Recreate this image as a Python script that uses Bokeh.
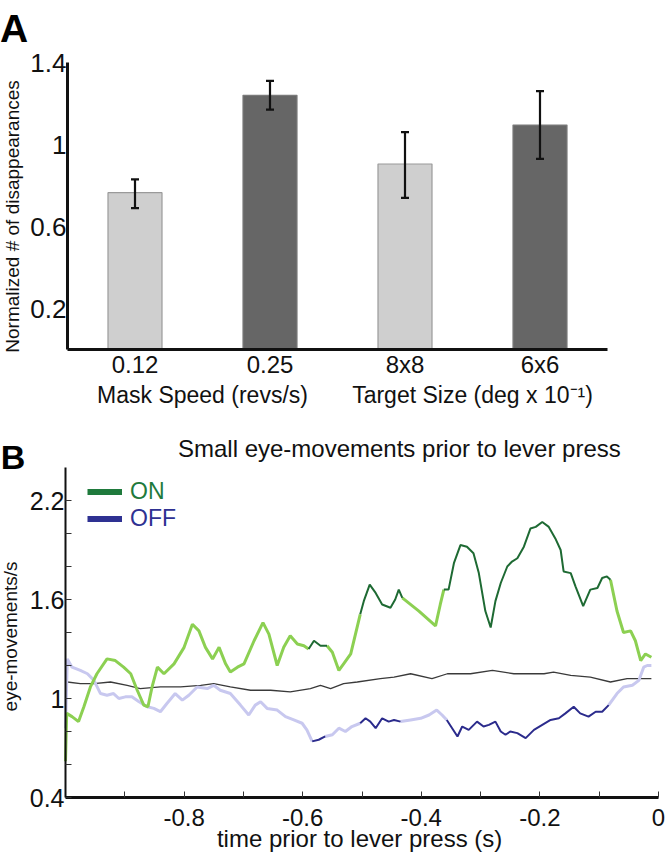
import numpy as np
from bokeh.plotting import figure
from bokeh.layouts import column
from bokeh.models import (Range1d, FixedTicker, Label, Whisker, ColumnDataSource,
                          Legend, LegendItem, TeeHead)
from bokeh.embed import file_html
from bokeh.resources import INLINE

FONT = "Liberation Sans"

# ---------------- Panel A data ----------------
bar_labels = ["0.12", "0.25", "8x8", "6x6"]
bar_values = [0.765, 1.24, 0.905, 1.095]
bar_err_upper = [0.83, 1.31, 1.06, 1.26]
bar_err_lower = [0.69, 1.17, 0.74, 0.93]
bar_fill = ["#cfcfcf", "#666666", "#cfcfcf", "#666666"]
bar_line = ["#9a9a9a", "#7a7a7a", "#9a9a9a", "#7a7a7a"]
group_labels = ["Mask Speed (revs/s)", "Target Size (deg x 10\u207b\u00b9)"]
group_centers = [1.0, 3.0]
a_yticks = [0.2, 0.6, 1.0, 1.4]
a_yticklabels = ["0.2", "0.6", "1", "1.4"]

# ---------------- Panel B data ----------------
on_t = [-1.0, -0.998, -0.989, -0.978, -0.969, -0.958, -0.947, -0.930, -0.916, -0.902,
        -0.890, -0.879, -0.868, -0.861, -0.854, -0.845, -0.834, -0.817, -0.800, -0.786,
        -0.775, -0.764, -0.752, -0.741, -0.730, -0.722, -0.710, -0.699, -0.682, -0.667,
        -0.657, -0.643, -0.632, -0.621, -0.609, -0.598, -0.590, -0.581, -0.570, -0.559,
        -0.550, -0.539, -0.531, -0.519, -0.511, -0.503, -0.497, -0.487, -0.477, -0.466,
        -0.452, -0.444, -0.438, -0.432, -0.404, -0.376, -0.368, -0.362, -0.354, -0.345,
        -0.334, -0.323, -0.312, -0.303, -0.292, -0.283, -0.275, -0.266, -0.255, -0.247,
        -0.238, -0.227, -0.216, -0.207, -0.196, -0.185, -0.174, -0.165, -0.160, -0.148,
        -0.140, -0.127, -0.115, -0.103, -0.095, -0.087, -0.081, -0.070, -0.059, -0.047,
        -0.039, -0.030, -0.022, -0.012]
on_v = [0.62, 0.91, 0.89, 0.86, 0.95, 1.07, 1.15, 1.24, 1.23, 1.19,
        1.15, 1.05, 0.96, 0.95, 1.07, 1.19, 1.15, 1.21, 1.31, 1.45,
        1.41, 1.31, 1.24, 1.31, 1.21, 1.16, 1.19, 1.21, 1.35, 1.46,
        1.39, 1.20, 1.31, 1.38, 1.33, 1.32, 1.30, 1.35, 1.32, 1.32,
        1.28, 1.17, 1.21, 1.27, 1.39, 1.51, 1.59, 1.69, 1.64, 1.57,
        1.55, 1.60, 1.66, 1.61, 1.53, 1.44, 1.57, 1.66, 1.66, 1.82,
        1.93, 1.92, 1.88, 1.76, 1.53, 1.43, 1.59, 1.70, 1.80, 1.83,
        1.85, 1.92, 2.03, 2.04, 2.07, 2.04, 1.97, 1.90, 1.77, 1.76,
        1.68, 1.56, 1.66, 1.67, 1.73, 1.74, 1.72, 1.53, 1.40, 1.41,
        1.35, 1.23, 1.27, 1.25]
on_sig_windows = [(-0.591, -0.558), (-0.504, -0.431), (-0.363, -0.080)]

off_t = [-1.0, -0.997, -0.989, -0.975, -0.963, -0.952, -0.941, -0.930, -0.919, -0.910,
         -0.899, -0.888, -0.876, -0.862, -0.851, -0.840, -0.829, -0.815, -0.803, -0.792,
         -0.778, -0.761, -0.750, -0.739, -0.722, -0.705, -0.691, -0.680, -0.671, -0.660,
         -0.643, -0.629, -0.615, -0.601, -0.593, -0.584, -0.573, -0.562, -0.550, -0.539,
         -0.528, -0.517, -0.503, -0.494, -0.486, -0.477, -0.466, -0.455, -0.446, -0.435,
         -0.418, -0.401, -0.387, -0.374, -0.365, -0.357, -0.348, -0.339, -0.331, -0.320,
         -0.306, -0.295, -0.286, -0.275, -0.266, -0.258, -0.250, -0.238, -0.224, -0.210,
         -0.196, -0.182, -0.168, -0.157, -0.143, -0.132, -0.118, -0.106, -0.095, -0.084,
         -0.070, -0.059, -0.044, -0.033, -0.025, -0.019, -0.012]
off_v = [0.82, 1.24, 1.19, 1.17, 1.15, 1.11, 1.03, 1.02, 1.03, 1.00,
         1.01, 1.01, 0.98, 0.95, 0.94, 0.92, 0.97, 1.03, 0.99, 1.02,
         1.07, 1.06, 1.08, 1.05, 1.03, 0.96, 0.90, 0.96, 0.98, 0.94,
         0.93, 0.89, 0.87, 0.85, 0.81, 0.74, 0.75, 0.77, 0.78, 0.82,
         0.80, 0.83, 0.85, 0.88, 0.86, 0.82, 0.88, 0.86, 0.87, 0.86,
         0.87, 0.88, 0.90, 0.93, 0.90, 0.87, 0.82, 0.77, 0.83, 0.81,
         0.86, 0.83, 0.84, 0.86, 0.80, 0.78, 0.80, 0.79, 0.76, 0.81,
         0.84, 0.87, 0.88, 0.91, 0.95, 0.91, 0.89, 0.92, 0.92, 0.96,
         1.03, 1.07, 1.08, 1.11, 1.19, 1.20, 1.20]
off_sig_windows = [(-0.585, -0.561), (-0.504, -0.434), (-0.358, -0.083)]

base_t = [-0.997, -0.975, -0.952, -0.924, -0.896, -0.874, -0.840, -0.806, -0.772, -0.750,
          -0.722, -0.688, -0.654, -0.621, -0.587, -0.570, -0.553, -0.531, -0.508, -0.469,
          -0.446, -0.418, -0.382, -0.356, -0.317, -0.280, -0.244, -0.216, -0.193, -0.177,
          -0.148, -0.115, -0.081, -0.053, -0.030, -0.012]
base_v = [1.10, 1.09, 1.09, 1.10, 1.08, 1.06, 1.07, 1.07, 1.08, 1.09,
          1.07, 1.05, 1.05, 1.04, 1.06, 1.08, 1.06, 1.09, 1.10, 1.12,
          1.13, 1.15, 1.12, 1.15, 1.15, 1.17, 1.15, 1.15, 1.15, 1.16,
          1.14, 1.13, 1.10, 1.12, 1.12, 1.12]

b_yticks = [0.4, 0.6, 0.8, 1.0, 1.2, 1.4, 1.6, 1.8, 2.0, 2.2]
b_yticklabels = ["0.4", "", "", "1", "", "", "1.6", "", "", "2.2"]
b_xticks = [-1.0, -0.9, -0.8, -0.7, -0.6, -0.5, -0.4, -0.3, -0.2, -0.1, 0.0]
b_xticklabels = ["", "", "-0.8", "", "-0.6", "", "-0.4", "", "-0.2", "", "0"]
legend_labels = ["ON", "OFF"]

ON_LIGHT, ON_DARK, ON_LEG = "#8cd052", "#1e6a33", "#1f7a3c"
OFF_LIGHT, OFF_DARK, OFF_LEG = "#c8c8ef", "#2b2b8c", "#2e3192"
TXT = "#111111"

# ---------------- layout (pixels) ----------------
W = 666
HA, HB = 415, 437
A_X0, A_PX = 67, 135.0       # x=0 at 67 px, 135 px per unit
A_Y0, A_PY = 349, 205.0      # y=0 at 349 px from top, 205 px per unit
B_X0, B_PX = 65, 593.0       # x=-1 at 65 px
B_Y0, B_PY = 382, 165.0      # y=0.4 at 382 px from top of panel B


def split_segments(t, v, windows):
    flags = [any(a <= x <= b for a, b in windows) for x in t]
    light, dark = [], []
    cur_x, cur_y, cur_state = [t[0]], [v[0]], None
    for i in range(len(t) - 1):
        state = flags[i] and flags[i + 1]
        if cur_state is None:
            cur_state = state
        if state != cur_state:
            (dark if cur_state else light).append((cur_x, cur_y))
            cur_x, cur_y, cur_state = [t[i]], [v[i]], state
        cur_x.append(t[i + 1])
        cur_y.append(v[i + 1])
    (dark if cur_state else light).append((cur_x, cur_y))
    return light, dark


def lab(p, x, y, text, size, angle=0.0, bold=False, color=TXT, baseline="middle"):
    p.add_layout(Label(x=x, y=y, text=text, angle=angle, text_font=FONT,
                       text_font_size=size, text_font_style="bold" if bold else "normal",
                       text_align="center", text_baseline=baseline, text_color=color))


def style_axis(ax, lw, fs, standoff, tick_in=0, tick_color=None):
    ax.axis_line_width = lw
    ax.axis_line_color = TXT
    ax.major_tick_in = tick_in
    ax.major_tick_out = 0
    ax.minor_tick_in = 0
    ax.minor_tick_out = 0
    ax.major_tick_line_color = tick_color
    ax.minor_tick_line_color = None
    ax.major_label_text_font = FONT
    ax.major_label_text_font_size = fs
    ax.major_label_text_color = TXT
    ax.major_label_standoff = standoff


# ---------------- Figure A ----------------
pA = figure(width=W, height=HA,
            x_range=Range1d(-A_X0 / A_PX, (W - A_X0) / A_PX),
            y_range=Range1d(-(HA - A_Y0) / A_PY, A_Y0 / A_PY),
            output_backend="svg", toolbar_location=None,
            min_border=0, min_border_left=0, min_border_right=0,
            min_border_top=0, min_border_bottom=0)
pA.outline_line_color = None
pA.grid.visible = False

bar_x = [i + 0.5 for i in range(len(bar_labels))]
srcA = ColumnDataSource(dict(x=bar_x, top=bar_values, upper=bar_err_upper,
                             lower=bar_err_lower, fill=bar_fill, line=bar_line))
pA.vbar(x="x", top="top", bottom=0, width=0.4, fill_color="fill", line_color="line",
        line_width=1.2, source=srcA)
pA.add_layout(Whisker(base="x", upper="upper", lower="lower", source=srcA, level="overlay",
                      line_width=2.2, line_color=TXT,
                      upper_head=TeeHead(size=8, line_width=2.2, line_color=TXT),
                      lower_head=TeeHead(size=8, line_width=2.2, line_color=TXT)))

pA.xaxis.fixed_location = 0
pA.xaxis.bounds = (0, len(bar_labels))
pA.xaxis.ticker = FixedTicker(ticks=bar_x)
pA.xaxis.major_label_overrides = dict(zip(bar_x, bar_labels))
pA.yaxis.fixed_location = 0
pA.yaxis.bounds = (0, 1.4)
pA.yaxis.ticker = FixedTicker(ticks=a_yticks)
pA.yaxis.major_label_overrides = dict(zip(a_yticks, a_yticklabels))
style_axis(pA.xaxis[0], 3, "24px", 1)
style_axis(pA.yaxis[0], 3, "26px", 1)

for gx, gl in zip(group_centers, group_labels):
    lab(pA, gx, -0.224, gl, "23px")
lab(pA, -0.407, 0.649, "Normalized # of disappearances", "19px", angle=np.pi / 2)
lab(pA, -0.396, 1.566, "A", "39px", bold=True, color="#000000", baseline="alphabetic")

# ---------------- Figure B ----------------
pB = figure(width=W, height=HB,
            x_range=Range1d(-1 - B_X0 / B_PX, -1 + (W - B_X0) / B_PX),
            y_range=Range1d(0.4 - (HB - B_Y0) / B_PY, 0.4 + B_Y0 / B_PY),
            output_backend="svg", toolbar_location=None,
            min_border=0, min_border_left=0, min_border_right=0,
            min_border_top=0, min_border_bottom=0)
pB.outline_line_color = None
pB.grid.visible = False

pB.line(base_t, base_v, line_color="#3a3a3a", line_width=1.3)

for t, v, win, light_c, dark_c in ((off_t, off_v, off_sig_windows, OFF_LIGHT, OFF_DARK),
                                   (on_t, on_v, on_sig_windows, ON_LIGHT, ON_DARK)):
    light, dark = split_segments(t, v, win)
    pB.multi_line(xs=[s[0] for s in light], ys=[s[1] for s in light],
                  line_color=light_c, line_width=3)
    pB.multi_line(xs=[s[0] for s in dark], ys=[s[1] for s in dark],
                  line_color=dark_c, line_width=2)

pB.xaxis.fixed_location = 0.4
pB.xaxis.bounds = (-1.0, 0.0)
pB.xaxis.ticker = FixedTicker(ticks=b_xticks)
pB.xaxis.major_label_overrides = dict(zip(b_xticks, b_xticklabels))
pB.yaxis.fixed_location = -1.0
pB.yaxis.bounds = (0.4, 2.4)
pB.yaxis.ticker = FixedTicker(ticks=b_yticks)
pB.yaxis.major_label_overrides = dict(zip(b_yticks, b_yticklabels))
style_axis(pB.xaxis[0], 3, "24px", 11, tick_in=6, tick_color="#333333")
style_axis(pB.yaxis[0], 2, "25px", 1, tick_in=6, tick_color="#333333")

lab(pB, -0.437, 2.515, "Small eye-movements prior to lever press", "24px")
lab(pB, -0.504, 0.152, "time prior to lever press (s)", "24px")
lab(pB, -1.0927, 1.376, "eye-movements/s", "19px", angle=np.pi / 2)
lab(pB, -1.0885, 2.461, "B", "34px", bold=True, color="#000000", baseline="alphabetic")

leg_on_r = pB.line(x=[np.nan, np.nan], y=[np.nan, np.nan], line_color=ON_LEG, line_width=6)
leg_off_r = pB.line(x=[np.nan, np.nan], y=[np.nan, np.nan], line_color=OFF_LEG, line_width=6)
for r, lb, col, loc in ((leg_on_r, legend_labels[0], ON_LEG, (87, 347)),
                        (leg_off_r, legend_labels[1], OFF_LEG, (87, 320))):
    lg = Legend(items=[LegendItem(label=lb, renderers=[r])], location=loc,
                padding=0, margin=0, spacing=0, glyph_width=35, glyph_height=27,
                label_height=27, label_standoff=8, label_text_font=FONT,
                label_text_font_size="23px", label_text_color=col,
                background_fill_alpha=0, border_line_alpha=0)
    pB.add_layout(lg)

layout = column(pA, pB, spacing=0)
open("out.html", "w").write(file_html(layout, INLINE))
